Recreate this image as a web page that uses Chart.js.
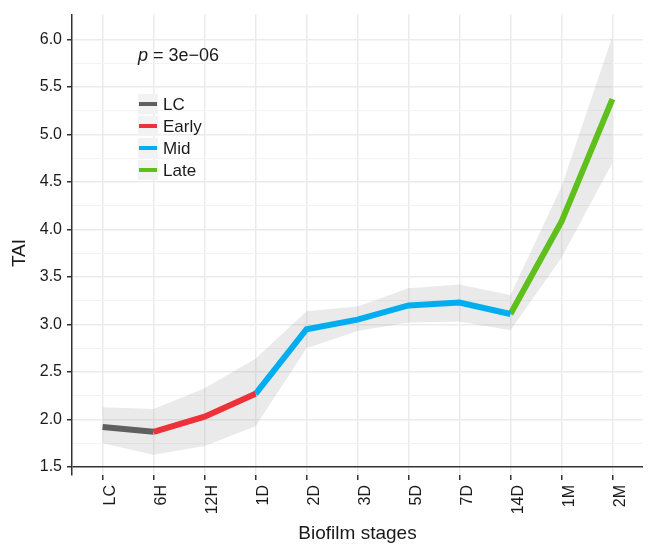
<!DOCTYPE html>
<html>
<head>
<meta charset="utf-8">
<script src="https://cdn.jsdelivr.net/npm/chart.js@4.4.0/dist/chart.umd.min.js"></script>
<style>
html,body{margin:0;padding:0;background:#fff;}
#wrap{width:658px;height:548px;position:relative;}
</style>
</head>
<body>
<div id="wrap"><canvas id="c" width="658" height="548"></canvas></div>
<script>
// ---- data ----
const categories = ['LC','6H','12H','1D','2D','3D','5D','7D','14D','1M','2M'];
const taiValues  = [1.92, 1.87, 2.03, 2.27, 2.95, 3.05, 3.20, 3.23, 3.11, 4.08, 5.37];
const upperBand  = [2.13, 2.11, 2.33, 2.64, 3.14, 3.19, 3.38, 3.42, 3.31, 4.45, 6.03];
const lowerBand  = [1.75, 1.63, 1.72, 1.93, 2.75, 2.93, 3.02, 3.03, 2.94, 3.70, 4.70];
const stageNames = ['LC','Early','Mid','Late'];
const stageFirst = [0, 1, 3, 8];   // first category index of each stage segment
const stageLast  = [1, 3, 8, 10];  // last category index of each stage segment
const stageColors = ['#606060','#ee3039','#00aeef','#5fbf1b'];
const yTickValues = [1.5, 2.0, 2.5, 3.0, 3.5, 4.0, 4.5, 5.0, 5.5, 6.0];
const yTickLabels = ['1.5','2.0','2.5','3.0','3.5','4.0','4.5','5.0','5.5','6.0'];
const yTitle = 'TAI';
const xTitle = 'Biofilm stages';
const pLabel = ['p', ' = 3e\u221206'];

const FONT = "'Liberation Sans', Arial, sans-serif";

const lineSets = stageNames.map((name, s) => {
  const pts = [];
  for (let i = stageFirst[s]; i <= stageLast[s]; i++) pts.push({x: i, y: taiValues[i]});
  return {
    label: name, data: pts, borderColor: stageColors[s], backgroundColor: stageColors[s],
    borderWidth: 6, borderCapStyle: 'butt', borderJoinStyle: 'miter', pointRadius: 0,
    fill: false, order: 1, tension: 0
  };
});

const ribbonUpper = {
  label: 'upper', data: upperBand.map((v, i) => ({x: i, y: v})),
  borderWidth: 0, borderColor: 'rgba(0,0,0,0)', pointRadius: 0,
  backgroundColor: 'rgba(150,150,150,0.2)', fill: '+1', order: 5
};
const ribbonLower = {
  label: 'lower', data: lowerBand.map((v, i) => ({x: i, y: v})),
  borderWidth: 0, borderColor: 'rgba(0,0,0,0)', pointRadius: 0, fill: false, order: 6
};

const minorY = [];
for (let k = 0; k < yTickValues.length - 1; k++) minorY.push((yTickValues[k] + yTickValues[k+1]) / 2);

const overlay = {
  id: 'overlay',
  afterDraw(chart) {
    const ctx = chart.ctx;
    ctx.save();
    // y-axis title
    ctx.fillStyle = '#1a1a1a';
    ctx.font = '19px ' + FONT;
    ctx.textAlign = 'center';
    ctx.textBaseline = 'middle';
    ctx.save();
    ctx.translate(20, 253);
    ctx.rotate(-Math.PI / 2);
    ctx.fillText(yTitle, 0, 0);
    ctx.restore();
    // p-value
    ctx.textBaseline = 'alphabetic';
    ctx.textAlign = 'left';
    ctx.font = 'italic 18px ' + FONT;
    const px = 138, py = 61;
    ctx.fillText(pLabel[0], px, py);
    const w = ctx.measureText(pLabel[0]).width;
    ctx.font = '18px ' + FONT;
    ctx.fillText(pLabel[1], px + w, py);
    // legend
    const lx = 138, ly0 = 94, step = 22, box = 20;
    stageNames.forEach((name, s) => {
      const y = ly0 + s * step;
      ctx.fillStyle = '#f2f2f2';
      ctx.fillRect(lx, y, box, box);
      ctx.strokeStyle = stageColors[s];
      ctx.lineWidth = 4;
      ctx.beginPath();
      ctx.moveTo(lx + 1, y + box / 2);
      ctx.lineTo(lx + box - 1, y + box / 2);
      ctx.stroke();
      ctx.fillStyle = '#1a1a1a';
      ctx.font = '17px ' + FONT;
      ctx.textBaseline = 'middle';
      ctx.fillText(name, lx + box + 5, y + box / 2 + 1);
    });
    ctx.restore();
  }
};

new Chart(document.getElementById('c'), {
  type: 'line',
  data: { datasets: [...lineSets, ribbonUpper, ribbonLower] },
  options: {
    responsive: false, animation: false,
    layout: { padding: { left: 0, right: 15, top: 12, bottom: 0 } },
    plugins: { legend: { display: false }, tooltip: { enabled: false } },
    scales: {
      x: {
        type: 'linear', min: -0.6, max: categories.length - 0.4,
        afterBuildTicks: (ax) => { ax.ticks = categories.map((c, i) => ({value: i})); },
        afterFit: (ax) => { ax.height = 73; },
        border: { display: false },
        grid: { color: '#ebebeb', lineWidth: 1.5, tickColor: '#333', tickLength: 5, drawTicks: true },
        ticks: {
          color: '#1a1a1a', font: { family: FONT, size: 16 }, padding: 5, labelOffset: 8,
          minRotation: 90, maxRotation: 90, autoSkip: false,
          callback: (v) => categories[v]
        },
        title: { display: true, text: xTitle, color: '#1a1a1a',
                 font: { family: FONT, size: 19 }, padding: { top: 4, bottom: 3 } }
      },
      y: {
        type: 'linear', min: 1.416, max: 6.26,
        afterBuildTicks: (ax) => {
          const all = [...yTickValues, ...minorY].sort((a, b) => a - b);
          ax.ticks = all.map(v => ({value: v}));
        },
        afterFit: (ax) => { ax.width = 72; },
        border: { display: true, color: '#333', width: 1.5 },
        grid: {
          color: (c) => {
            const v = c.tick ? c.tick.value : null;
            if (v === yTickValues[0]) return '#333';
            return yTickValues.includes(v) ? '#ebebeb' : '#f3f3f3';
          },
          lineWidth: (c) => {
            const v = c.tick ? c.tick.value : null;
            if (v === yTickValues[0]) return 1.5;
            return yTickValues.includes(v) ? 1.5 : 1;
          },
          tickColor: (c) => (c.tick && yTickValues.includes(c.tick.value)) ? '#333' : 'rgba(0,0,0,0)',
          tickLength: 5
        },
        ticks: {
          color: '#1a1a1a', font: { family: FONT, size: 16 }, padding: 5, autoSkip: false,
          callback: (v) => { const k = yTickValues.indexOf(v); return k >= 0 ? yTickLabels[k] : ''; }
        },
        title: { display: false }
      }
    }
  },
  plugins: [overlay]
});
</script>
</body>
</html>
